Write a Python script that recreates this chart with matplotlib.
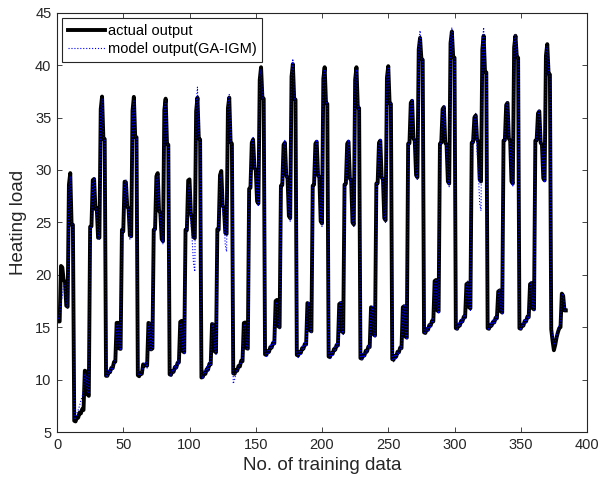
import numpy as np
import matplotlib
matplotlib.use("Agg")
import matplotlib.pyplot as plt

plt.rcParams['font.family'] = ['Liberation Sans', 'DejaVu Sans']

# heating load, 384 training samples (24 per block)
actual = [
    15.55, 15.55, 20.84, 20.71, 19.50, 19.34, 17.05, 16.95, 28.60, 29.70, 24.77, 24.77, 6.07, 6.01, 6.37, 6.37, 6.85, 6.77, 7.18, 7.10, 10.85, 10.77, 8.60, 8.45,
    24.58, 24.63, 29.03, 29.14, 26.28, 26.37, 23.53, 23.54, 35.80, 37.00, 32.96, 32.94, 10.36, 10.36, 10.71, 10.70, 11.11, 11.09, 11.68, 11.70, 15.41, 15.42, 12.96, 12.93,
    24.29, 24.13, 28.88, 28.83, 26.48, 26.33, 23.75, 23.67, 35.65, 36.97, 33.16, 33.12, 10.42, 10.32, 10.64, 10.55, 11.45, 11.32, 11.45, 11.33, 15.41, 15.34, 12.88, 12.97,
    24.30, 24.35, 29.40, 29.70, 26.10, 25.90, 23.40, 23.20, 35.70, 36.80, 32.50, 32.40, 10.50, 10.45, 10.80, 10.75, 11.20, 11.15, 11.60, 11.65, 15.50, 15.60, 12.70, 12.60,
    24.30, 24.25, 29.00, 29.10, 25.90, 25.30, 23.60, 23.50, 35.60, 36.90, 33.00, 32.90, 10.20, 10.25, 10.60, 10.55, 11.00, 10.95, 11.50, 11.45, 15.30, 15.20, 12.70, 12.60,
    24.35, 24.30, 29.50, 29.90, 26.60, 26.40, 24.00, 23.90, 35.90, 36.90, 32.70, 32.50, 10.60, 10.55, 10.90, 10.85, 11.30, 11.25, 11.80, 11.75, 15.40, 15.45, 13.00, 12.95,
    28.20, 28.30, 32.60, 32.90, 30.20, 30.00, 27.00, 26.80, 38.60, 39.80, 36.90, 36.80, 12.40, 12.35, 12.70, 12.65, 13.10, 13.05, 13.50, 13.45, 17.50, 17.60, 15.10, 15.00,
    28.50, 28.55, 32.40, 32.60, 29.50, 29.20, 25.60, 25.40, 38.90, 40.10, 36.80, 36.70, 12.35, 12.30, 12.60, 12.55, 13.00, 12.95, 13.40, 13.35, 17.30, 17.20, 14.70, 14.60,
    28.50, 28.60, 32.50, 32.70, 29.50, 29.30, 25.10, 24.90, 38.70, 39.80, 36.40, 36.30, 12.20, 12.15, 12.50, 12.45, 12.90, 12.85, 13.30, 13.25, 17.20, 17.30, 14.60, 14.50,
    28.60, 28.70, 32.50, 32.70, 29.20, 29.00, 25.00, 24.80, 38.60, 39.80, 36.00, 35.90, 12.05, 12.00, 12.35, 12.30, 12.75, 12.70, 13.15, 13.10, 16.90, 16.80, 14.30, 14.20,
    28.70, 28.75, 32.60, 32.80, 29.30, 29.10, 25.40, 25.20, 38.80, 39.90, 36.40, 36.30, 11.95, 11.90, 12.25, 12.20, 12.65, 12.60, 13.05, 13.00, 16.90, 17.00, 14.10, 14.00,
    32.50, 32.55, 36.40, 36.60, 33.00, 32.80, 29.50, 29.30, 41.50, 42.60, 40.60, 40.50, 14.50, 14.45, 14.80, 14.75, 15.20, 15.15, 15.60, 15.55, 19.40, 19.50, 16.60, 16.50,
    32.50, 32.60, 35.80, 36.00, 32.60, 32.40, 28.90, 28.70, 42.10, 43.20, 40.80, 40.70, 14.90, 14.85, 15.20, 15.15, 15.60, 15.55, 16.00, 15.95, 19.10, 19.20, 16.90, 16.80,
    32.60, 32.65, 35.00, 35.20, 32.90, 32.70, 29.10, 28.90, 41.50, 42.80, 39.40, 39.30, 14.90, 14.85, 15.20, 15.15, 15.50, 15.45, 15.90, 15.85, 18.40, 18.50, 16.50, 16.40,
    32.80, 32.85, 36.20, 36.40, 33.00, 32.80, 28.90, 28.70, 41.70, 42.80, 40.80, 40.70, 14.90, 14.85, 15.20, 15.15, 15.60, 15.55, 16.00, 15.95, 19.10, 19.20, 16.80, 16.70,
    32.80, 32.85, 35.40, 35.60, 32.60, 32.40, 29.20, 29.00, 40.90, 42.00, 39.20, 39.10, 14.80, 13.70, 12.80, 13.30, 14.00, 14.50, 14.90, 15.00, 18.20, 18.00, 16.60, 16.60,
]

model = [
    15.80, 16.30, 17.40, 17.90, 19.20, 19.00, 17.30, 16.80, 28.20, 29.40, 24.90, 24.60, 6.20, 6.30, 6.80, 7.10, 7.50, 8.00, 8.40, 9.00, 10.60, 10.40, 8.90, 8.70,
    24.40, 24.70, 28.70, 29.30, 26.50, 26.00, 23.90, 23.30, 35.60, 36.80, 33.20, 32.70, 10.50, 10.20, 10.90, 10.60, 11.30, 11.00, 11.50, 11.90, 15.10, 15.30, 13.20, 12.80,
    24.10, 24.40, 28.50, 29.10, 26.70, 26.00, 23.40, 23.90, 35.30, 36.70, 33.40, 32.90, 10.60, 10.50, 10.40, 10.80, 11.20, 11.60, 11.70, 11.10, 15.00, 15.50, 12.70, 13.10,
    24.10, 24.50, 29.00, 29.50, 26.40, 25.60, 23.70, 22.90, 35.90, 36.60, 32.80, 32.10, 10.70, 10.30, 11.00, 10.60, 11.40, 11.00, 11.90, 11.40, 15.20, 15.40, 12.90, 12.40,
    24.00, 24.60, 27.80, 28.70, 25.00, 23.40, 21.10, 20.30, 36.30, 37.90, 33.40, 32.60, 10.50, 10.10, 10.90, 10.40, 11.30, 10.80, 11.80, 11.30, 15.00, 15.40, 12.90, 12.40,
    24.10, 24.60, 29.10, 29.60, 26.00, 25.20, 22.80, 22.20, 36.20, 37.20, 32.90, 32.20, 9.60, 10.00, 10.60, 11.00, 11.10, 11.50, 11.60, 12.00, 15.10, 15.30, 13.20, 12.80,
    28.00, 28.60, 32.30, 33.10, 30.40, 29.70, 27.30, 26.50, 38.90, 39.60, 37.10, 36.50, 12.60, 12.20, 12.90, 12.50, 13.30, 12.90, 13.70, 13.30, 17.20, 17.40, 15.30, 14.80,
    28.30, 28.80, 32.10, 32.90, 29.80, 28.90, 25.90, 25.10, 39.30, 40.60, 37.00, 36.40, 12.50, 12.10, 12.80, 12.40, 13.20, 12.80, 13.60, 13.20, 17.00, 17.40, 14.90, 14.40,
    28.30, 28.80, 32.20, 32.90, 29.80, 29.00, 25.40, 24.60, 39.00, 39.60, 36.60, 36.10, 12.40, 12.00, 12.70, 12.30, 13.10, 12.70, 13.50, 13.10, 17.00, 17.50, 14.80, 14.30,
    28.40, 28.90, 32.20, 32.90, 29.50, 28.60, 25.20, 24.60, 38.90, 39.60, 36.20, 35.60, 12.20, 11.80, 12.50, 12.10, 12.90, 12.50, 13.30, 12.90, 16.60, 17.00, 14.50, 14.00,
    28.50, 29.00, 32.30, 33.00, 29.60, 28.80, 25.70, 24.90, 39.10, 39.70, 36.60, 36.00, 12.10, 11.70, 12.40, 12.00, 12.80, 12.40, 13.20, 12.80, 16.60, 17.20, 14.30, 13.80,
    32.30, 32.80, 36.10, 36.80, 33.30, 32.50, 29.80, 29.00, 41.90, 43.30, 40.80, 40.20, 14.70, 14.30, 15.00, 14.60, 15.40, 15.00, 15.80, 15.40, 19.10, 19.60, 16.80, 16.30,
    32.30, 32.80, 35.50, 36.20, 32.90, 32.10, 29.10, 28.40, 42.40, 43.60, 41.00, 40.40, 15.10, 14.70, 15.40, 15.00, 15.80, 15.40, 16.20, 15.80, 18.80, 19.40, 17.10, 16.60,
    32.40, 32.90, 34.70, 35.40, 31.80, 29.70, 26.80, 26.10, 42.20, 43.60, 39.70, 39.00, 15.10, 14.70, 15.40, 15.00, 15.70, 15.30, 16.10, 15.70, 18.10, 18.70, 16.70, 16.20,
    32.60, 33.10, 35.90, 36.60, 33.30, 32.40, 29.20, 28.40, 42.00, 43.00, 41.00, 40.40, 15.10, 14.70, 15.40, 15.00, 15.80, 15.40, 16.20, 15.80, 18.80, 19.40, 17.00, 16.50,
    32.60, 33.10, 35.10, 35.80, 32.90, 32.00, 29.40, 28.80, 41.20, 41.80, 39.40, 38.90, 15.00, 14.20, 13.30, 13.60, 14.30, 14.80, 15.20, 15.40, 17.90, 18.20, 16.80, 16.40,
]

x_ticks = [0, 50, 100, 150, 200, 250, 300, 350, 400]
y_ticks = [5, 10, 15, 20, 25, 30, 35, 40, 45]

samples = np.arange(1, len(actual) + 1)

fig = plt.figure(figsize=(6.02, 4.87), dpi=100)
ax = fig.add_axes([0.0947, 0.1129, 0.8804, 0.861])

ax.plot(samples, actual, color='k', linewidth=2.8, label='actual output')
ax.plot(samples, model, color='b', linestyle=':', linewidth=0.8, label='model output(GA-IGM)')

ax.set_xlim(0, 400)
ax.set_ylim(5, 45)
ax.set_xticks(x_ticks)
ax.set_yticks(y_ticks)
ax.tick_params(direction='in', top=True, right=True, length=3.5, width=0.6,
               labelsize=10.5, colors='#262626', pad=4)
for s in ax.spines.values():
    s.set_color('#262626')
    s.set_linewidth(0.8)

ax.set_xlabel('No. of training data', fontsize=13.5, color='#262626', labelpad=4)
ax.set_ylabel('Heating load', fontsize=13.5, color='#262626', labelpad=6)

leg = ax.legend(loc='upper left', fontsize=10.5, fancybox=False, framealpha=1,
                edgecolor='#262626', handlelength=2.5, handletextpad=0.2,
                borderaxespad=0.35, labelspacing=0.3, borderpad=0.42)
leg.get_frame().set_linewidth(0.8)

fig.savefig('out.png', dpi=100)
